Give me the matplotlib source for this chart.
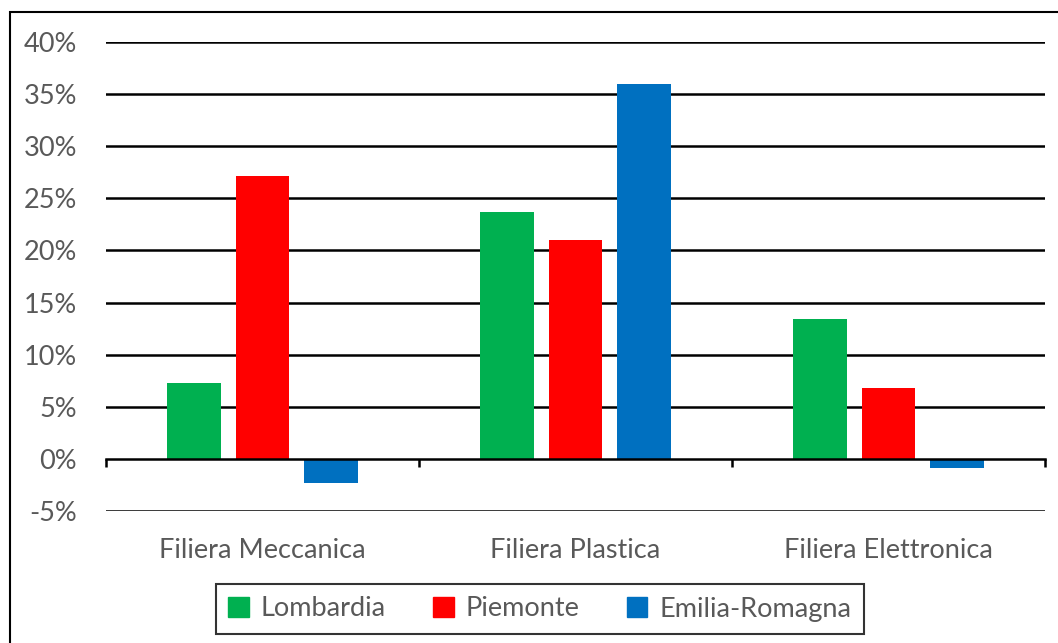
import matplotlib
matplotlib.use("Agg")
import matplotlib.pyplot as plt
import numpy as np
from matplotlib.patches import Rectangle, Patch
from matplotlib.ticker import FuncFormatter

categories = ["Filiera Meccanica", "Filiera Plastica", "Filiera Elettronica"]
regions = ["Lombardia", "Piemonte", "Emilia-Romagna"]
lombardia = [7.3, 23.7, 13.4]
piemonte = [27.1, 21.0, 6.8]
emilia = [-2.3, 36.0, -0.9]
yticks = [-5, 0, 5, 10, 15, 20, 25, 30, 35, 40]

colors = ["#00B050", "#FF0000", "#0070C0"]
grey = "#595959"
fs = 19.5
plt.rcParams["font.family"] = ["Lato", "DejaVu Sans"]

fig = plt.figure(figsize=(10.58, 6.43), dpi=100)
ax = fig.add_axes([106 / 1058, 1 - 511 / 643, (1045 - 106) / 1058, (511 - 42) / 643])

x = np.arange(len(categories))
width = 0.1725
step = 0.2204
for i, (vals, name) in enumerate(zip([lombardia, piemonte, emilia], regions)):
    ax.bar(x + (i - 1) * step, vals, width, color=colors[i], label=name, zorder=3)

ax.set_xlim(-0.5, 2.5)
ax.set_ylim(-5, 40)
ax.set_yticks(yticks)
ax.yaxis.set_major_formatter(FuncFormatter(lambda v, p: f"{v:.0f}%"))
for t in yticks:
    if t != 0:
        ax.axhline(t, color="black", lw=1.8, zorder=1)

for s in ["left", "right", "top"]:
    ax.spines[s].set_visible(False)
ax.spines["bottom"].set_position(("data", 0))
ax.spines["bottom"].set_linewidth(1.8)
ax.spines["bottom"].set_zorder(4)

ax.set_xticks(x)
ax.set_xticklabels(categories)
ax.set_xticks([-0.5, 0.5, 1.5, 2.5], minor=True)
ax.tick_params(axis="x", which="major", length=0, pad=57, labelsize=fs, labelcolor=grey)
ax.tick_params(axis="x", which="minor", length=6, width=1.8, direction="out")
ax.tick_params(axis="y", length=0, pad=21, labelsize=fs, labelcolor=grey)

leg = ax.legend(handles=[Patch(color=c, label=r) for c, r in zip(colors, regions)],
                loc="center", bbox_to_anchor=(540 / 1058, 1 - 609 / 643),
                bbox_transform=fig.transFigure, ncol=3, fontsize=fs,
                frameon=True, fancybox=False, edgecolor="black",
                handlelength=0.75, handleheight=0.75, handletextpad=0.45,
                columnspacing=1.75, borderpad=0.45, borderaxespad=0,
                labelcolor=grey)
leg.get_frame().set_linewidth(1.5)

fig.patches.append(Rectangle((10 / 1058, -0.1), 1.2, 1 - 12 / 643 + 0.1,
                             transform=fig.transFigure, fill=False,
                             edgecolor="black", lw=1.5))

fig.savefig("out.png", dpi=100)
